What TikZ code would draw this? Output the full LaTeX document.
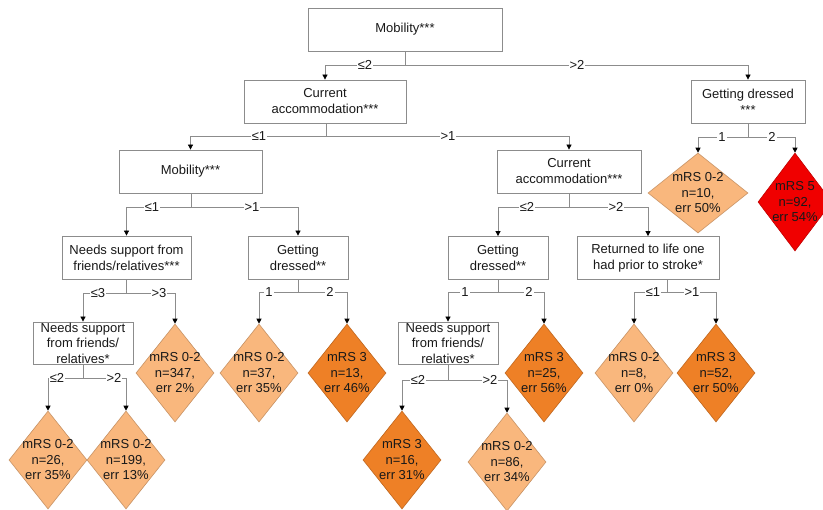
\documentclass[tikz,border=0pt]{standalone}
\usepackage{fontspec}
\setmainfont{Liberation Sans}
\usetikzlibrary{shapes.geometric,arrows.meta}
\definecolor{lo}{RGB}{249,183,125}
\definecolor{dor}{RGB}{238,128,38}
\definecolor{rd}{RGB}{240,0,0}
\definecolor{ln}{RGB}{140,140,140}
\tikzset{
  txt/.style={font=\fontsize{13bp}{16bp}\selectfont, text=black!90},
  box/.style={txt, draw=ln, line width=0.8bp, fill=white, minimum height=43bp, align=center, inner sep=0pt},
  diam/.style={diamond, draw=#1!80!black, fill=#1, line width=0.6bp, minimum width=78bp, minimum height=98bp, inner sep=0pt},
  dtext/.style={font=\fontsize{13bp}{15.5bp}\selectfont, text=black!90, align=center, inner sep=0pt},
  lbl/.style={txt, fill=white, inner sep=1bp},
  conn/.style={draw=ln, line width=0.8bp},
  arr/.style={conn, -{Triangle[length=5bp,width=5bp,color=black]}},
}
\begin{document}
\begin{tikzpicture}[x=1bp,y=-1bp]
\useasboundingbox (0,0) rectangle (823,510);
\clip (0,0) rectangle (823,510);
% boxes
\node[box, minimum width=194bp] (root) at (405,29.5) {Mobility***};
\node[box, minimum width=162bp] (ca1) at (325,101.5) {Current\\accommodation***};
\node[box, minimum width=114bp] (gd1) at (748,101.5) {Getting dressed\\***};
\node[box, minimum width=143bp] (mob2) at (190.5,171.5) {Mobility***};
\node[box, minimum width=144bp] (ca2) at (569,171.5) {Current\\accommodation***};
\node[box, minimum width=129bp] (ns1) at (126.5,257.5) {Needs support from\\friends/relatives***};
\node[box, minimum width=100bp] (gd2) at (298,257.5) {Getting\\dressed**};
\node[box, minimum width=100bp] (gd3) at (498,258) {Getting\\dressed**};
\node[box, minimum width=142bp] (ret) at (648,258) {Returned to life one\\had prior to stroke*};
\node[box, minimum width=100bp, minimum height=42bp, font=\fontsize{13bp}{15.5bp}\selectfont] (ns2) at (83,343) {Needs support\\from friends/\\relatives*};
\node[box, minimum width=100bp, minimum height=42bp, font=\fontsize{13bp}{15.5bp}\selectfont] (ns3) at (448,343) {Needs support\\from friends/\\relatives*};
% diamonds
\node[diam=lo, minimum width=100bp, minimum height=80bp] (dA) at (698,193) {};
\node[dtext] (dAt) at (dA) {mRS 0-2\\n=10,\\err 50\%};
\node[diam=rd, minimum width=74bp] (dB) at (795,202) {};
\node[dtext] (dBt) at (dB) {mRS 5\\n=92,\\err 54\%};
\node[diam=lo] (d347) at (175,373) {};
\node[dtext] (d347t) at (d347) {mRS 0-2\\n=347,\\err 2\%};
\node[diam=lo] (d37) at (259,373) {};
\node[dtext] (d37t) at (d37) {mRS 0-2\\n=37,\\err 35\%};
\node[diam=dor] (d13) at (347,373) {};
\node[dtext] (d13t) at (d13) {mRS 3\\n=13,\\err 46\%};
\node[diam=dor] (d25) at (544,373) {};
\node[dtext] (d25t) at (d25) {mRS 3\\n=25,\\err 56\%};
\node[diam=lo] (d8) at (634,373) {};
\node[dtext] (d8t) at (d8) {mRS 0-2\\n=8,\\err 0\%};
\node[diam=dor] (d52) at (716,373) {};
\node[dtext] (d52t) at (d52) {mRS 3\\n=52,\\err 50\%};
\node[diam=lo] (d26) at (48,460) {};
\node[dtext] (d26t) at (d26) {mRS 0-2\\n=26,\\err 35\%};
\node[diam=lo] (d199) at (126,460) {};
\node[dtext] (d199t) at (d199) {mRS 0-2\\n=199,\\err 13\%};
\node[diam=dor] (d16) at (402,460) {};
\node[dtext] (d16t) at (d16) {mRS 3\\n=16,\\err 31\%};
\node[diam=lo] (d86) at (507,462) {};
\node[dtext] (d86t) at (d86) {mRS 0-2\\n=86,\\err 34\%};
% junctions
\coordinate (j0) at (405,65);
\coordinate (j1) at (326,136);
\coordinate (j2) at (748,137);
\coordinate (j3) at (191,207);
\coordinate (j4) at (569,207);
\coordinate (j5) at (126,293);
\coordinate (j6) at (298,292);
\coordinate (j7) at (498,292);
\coordinate (retout) at (667,279.5);
\coordinate (j8) at (667,292);
\coordinate (j9) at (83,378);
\coordinate (j10) at (448,380);
% connectors
\draw[conn] (root.south) -- (j0);
\draw[arr] (j0) -| (ca1.north);
\draw[arr] (j0) -| (gd1.north);
\draw[conn] (ca1.south -| j1) -- (j1);
\draw[arr] (j1) -| (mob2.north);
\draw[arr] (j1) -| (ca2.north);
\draw[conn] (gd1.south) -- (j2);
\draw[arr] (j2) -| (dA.north);
\draw[arr] (j2) -| (dB.north);
\draw[conn] (mob2.south -| j3) -- (j3);
\draw[arr] (j3) -| (ns1.north);
\draw[arr] (j3) -| (gd2.north);
\draw[conn] (ca2.south) -- (j4);
\draw[arr] (j4) -| (gd3.north);
\draw[arr] (j4) -| (ret.north);
\draw[conn] (ns1.south -| j5) -- (j5);
\draw[arr] (j5) -| (ns2.north);
\draw[arr] (j5) -| (d347.north);
\draw[conn] (gd2.south) -- (j6);
\draw[arr] (j6) -| (d37.north);
\draw[arr] (j6) -| (d13.north);
\draw[conn] (gd3.south) -- (j7);
\draw[arr] (j7) -| (ns3.north);
\draw[arr] (j7) -| (d25.north);
\draw[conn] (retout) -- (j8);
\draw[arr] (j8) -| (d8.north);
\draw[arr] (j8) -| (d52.north);
\draw[conn] (ns2.south) -- (j9);
\draw[arr] (j9) -| (d26.north);
\draw[arr] (j9) -| (d199.north);
\draw[conn] (ns3.south) -- (j10);
\draw[arr] (j10) -| (d16.north);
\draw[arr] (j10) -| (d86.north);
% labels
\node[lbl] (l0a) at (365,65) {≤2};
\node[lbl] (l0b) at (577,65) {>2};
\node[lbl] (l1a) at (259,136) {≤1};
\node[lbl] (l1b) at (448,136) {>1};
\node[lbl] (l2a) at (722,137) {1};
\node[lbl] (l2b) at (772,137) {2};
\node[lbl] (l3a) at (152,207) {≤1};
\node[lbl] (l3b) at (252,207) {>1};
\node[lbl] (l4a) at (527,207) {≤2};
\node[lbl] (l4b) at (616,207) {>2};
\node[lbl] (l5a) at (98,293) {≤3};
\node[lbl] (l5b) at (159,293) {>3};
\node[lbl] (l6a) at (269,292) {1};
\node[lbl] (l6b) at (330,292) {2};
\node[lbl] (l7a) at (465,292) {1};
\node[lbl] (l7b) at (529,292) {2};
\node[lbl] (l8a) at (653,292) {≤1};
\node[lbl] (l8b) at (692,292) {>1};
\node[lbl] (l9a) at (57,378) {≤2};
\node[lbl] (l9b) at (114,378) {>2};
\node[lbl] (l10a) at (418,380) {≤2};
\node[lbl] (l10b) at (490,380) {>2};
\end{tikzpicture}
\end{document}
